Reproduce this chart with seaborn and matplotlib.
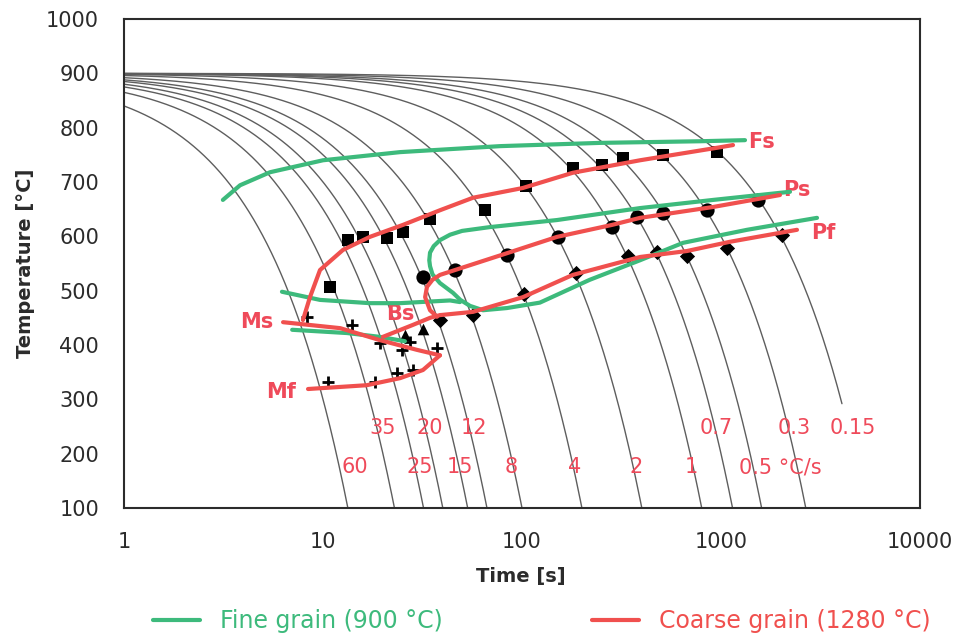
import numpy as np
import pandas as pd
import matplotlib
matplotlib.use("Agg")
import matplotlib.pyplot as plt
import seaborn as sns
from matplotlib.lines import Line2D

sns.set_style("white")
plt.rcParams['font.family'] = ['DejaVu Sans']

GREEN = "#3dba7c"
RED = "#f0504e"
TXT_RED = "#ef4a5a"
GRAY = "#5e5e5e"
INK = "#2b2b2b"

# ---------------- data ----------------
start_temp = 900
cooling_rates = [60, 35, 25, 20, 15, 12, 8, 4, 2, 1, 0.7, 0.5, 0.3, 0.15]
end_temps = [100, 100, 100, 100, 100, 100, 100, 100, 100, 100, 100, 100, 100, 292]

# fine grain (900 C)
g_fs_t = [3.14, 3.83, 5.42, 10, 24.4, 77.5, 247, 784, 1320]
g_fs_T = [667, 694, 718, 740, 755, 766, 772, 775, 777]
g_bs_t = [6.22, 9.66, 17.2, 24.4, 43.5, 48.8]
g_bs_T = [498, 483, 477, 477, 482, 479]
g_p_t = [2222, 912, 392, 150, 69, 50, 43.5, 38.7, 36, 34.5, 34.2, 34.5, 35.5, 38.7,
         45, 49, 54.8, 63.7, 84, 123, 219, 392, 644, 1351, 3037]
g_p_T = [682, 667, 652, 630, 617, 610, 603, 593, 582, 570, 556, 545, 530, 514,
         496, 483, 472, 464, 468, 478, 520, 556, 588, 612, 634]
g_ms_t = [7.0, 13.2, 19.3, 25.8]
g_ms_T = [428, 422, 415, 407]

# coarse grain (1280 C)
c_fs_t = [7.93, 8.60, 9.66, 12.6, 17.2, 25.2, 38.7, 56.7, 101, 180, 392, 955, 1149]
c_fs_T = [446, 488, 538, 575, 599, 621, 648, 671, 689, 717, 740, 763, 768]
c_ps_t = [37.4, 34.5, 32.6, 33.3, 35.5, 38.7, 84.1, 150, 283, 392, 912, 1978]
c_ps_T = [452, 464, 488, 507, 520, 529, 569, 599, 621, 634, 654, 676]
c_pf_t = [20.0, 28.3, 34.5, 38.7, 56.7, 101, 180, 392, 675, 1110, 2409]
c_pf_T = [415, 437, 450, 455, 461, 488, 529, 562, 573, 590, 612]
c_ms_t = [6.30, 12.2, 19.3, 29.7, 38.7]
c_ms_T = [442, 431, 409, 391, 381]
c_mf_t = [8.41, 16.6, 24.4, 31.8, 38.7]
c_mf_T = [319, 326, 339, 354, 381]

# measured points
sq_t = [10.8, 13.4, 15.9, 21.0, 25.2, 34.5, 65.2, 105, 180, 252, 322, 511, 955]
sq_T = [507, 593, 599, 597, 608, 632, 648, 693, 726, 731, 744, 750, 755]
ci_t = [31.8, 46.1, 84.1, 152, 283, 378, 511, 851, 1534]
ci_T = [525, 538, 566, 599, 617, 636, 643, 648, 667]
di_t = [38.7, 56.7, 102, 187, 341, 477, 675, 1072, 2025]
di_T = [446, 455, 494, 533, 564, 571, 564, 579, 602]
tr_t = [25.8, 31.8]
tr_T = [418, 429]
pl_t = [8.31, 14.0, 19.3, 24.9, 27.4, 37.4, 10.6, 18.3, 23.5, 28.3]
pl_T = [452, 437, 404, 391, 406, 394, 332, 332, 348, 354]

# rate labels
rate_labels_top = ["35", "20", "12", "0.7", "0.3", "0.15"]
rate_top_t = [20.0, 34.5, 57.4, 944, 2325, 4605]
rate_labels_bot = ["60", "25", "15", "8", "4", "2", "1", "0.5 °C/s"]
rate_bot_t = [14.5, 30.7, 48.8, 88.0, 183, 373, 711, 1978]
rate_top_T = 247
rate_bot_T = 175

phase_labels = ["Fs", "Ps", "Pf", "Ms", "Bs", "Mf"]
phase_t = [1607, 2409, 3256, 4.66, 24.4, 6.15]
phase_T = [774, 685, 606, 442, 457, 313]

# ---------------- figure ----------------
fig = plt.figure(figsize=(9.59, 6.38), dpi=100)
ax = fig.add_axes([124/959, 1-508/638, 796/959, 489/638])

rows = []
for r, te in zip(cooling_rates, end_temps):
    tt = np.geomspace(1, (start_temp - te) / r, 300)
    for a in tt:
        rows.append((r, a, start_temp - r * a))
cool = pd.DataFrame(rows, columns=["rate", "time", "temp"])
sns.lineplot(data=cool, x="time", y="temp", units="rate", estimator=None,
             sort=False, color=GRAY, lw=1.0, ax=ax, zorder=1)

mk = dict(color="black", ax=ax, zorder=3, linewidth=0)
sns.scatterplot(x=sq_t, y=sq_T, marker="s", s=80, **mk)
sns.scatterplot(x=ci_t, y=ci_T, marker="o", s=105, **mk)
sns.scatterplot(x=di_t, y=di_T, marker="D", s=60, **mk)
sns.scatterplot(x=tr_t, y=tr_T, marker="^", s=70, **mk)
sns.scatterplot(x=pl_t, y=pl_T, marker="+", s=70, color="black", ax=ax,
                zorder=3, linewidth=2)

lk = dict(sort=False, estimator=None, lw=3, ax=ax, zorder=4)
for tt, TT in [(g_fs_t, g_fs_T), (g_bs_t, g_bs_T), (g_p_t, g_p_T), (g_ms_t, g_ms_T)]:
    sns.lineplot(x=tt, y=TT, color=GREEN, **lk)
for tt, TT in [(c_fs_t, c_fs_T), (c_ps_t, c_ps_T), (c_pf_t, c_pf_T),
               (c_ms_t, c_ms_T), (c_mf_t, c_mf_T)]:
    sns.lineplot(x=tt, y=TT, color=RED, **lk)

for lab, t in zip(rate_labels_top, rate_top_t):
    ax.text(t, rate_top_T, lab, color=TXT_RED, fontsize=15, ha="center", va="center", zorder=5)
for lab, t in zip(rate_labels_bot, rate_bot_t):
    ax.text(t, rate_bot_T, lab, color=TXT_RED, fontsize=15, ha="center", va="center", zorder=5)
for lab, t, T in zip(phase_labels, phase_t, phase_T):
    ax.text(t, T, lab, color=TXT_RED, fontsize=15, fontweight="bold",
            ha="center", va="center", zorder=3)

ax.set_xscale("log")
ax.set_xlim(1, 10000)
ax.set_ylim(100, 1000)
ax.set_xticks([1, 10, 100, 1000, 10000])
ax.set_xticklabels(["1", "10", "100", "1000", "10000"])
ax.set_yticks(range(100, 1001, 100))
ax.minorticks_off()
ax.tick_params(axis="both", direction="out", length=6.5, width=1.5,
               labelsize=15, color=INK, labelcolor=INK)
ax.tick_params(axis="y", pad=11.5)
ax.tick_params(axis="x", pad=11)
for s in ax.spines.values():
    s.set_visible(True)
    s.set_linewidth(1.5)
    s.set_color(INK)

ax.set_xlabel("Time [s]", fontsize=14, fontweight="bold", color=INK)
ax.set_ylabel("Temperature [°C]", fontsize=14, fontweight="bold", color=INK)
ax.xaxis.set_label_coords(0.499, -0.121)
ax.yaxis.set_label_coords(-0.112, 0.501)

handles = [Line2D([], [], color=GREEN, lw=3), Line2D([], [], color=RED, lw=3)]
fig.legend(handles, ["Fine grain (900 °C)", "Coarse grain (1280 °C)"],
           loc="center", bbox_to_anchor=(0.565, 0.0266), ncol=2, frameon=False,
           fontsize=17, handlelength=2.0, handletextpad=0.85, columnspacing=6.3,
           labelcolor=[GREEN, RED])

fig.savefig("out.png", dpi=100)
